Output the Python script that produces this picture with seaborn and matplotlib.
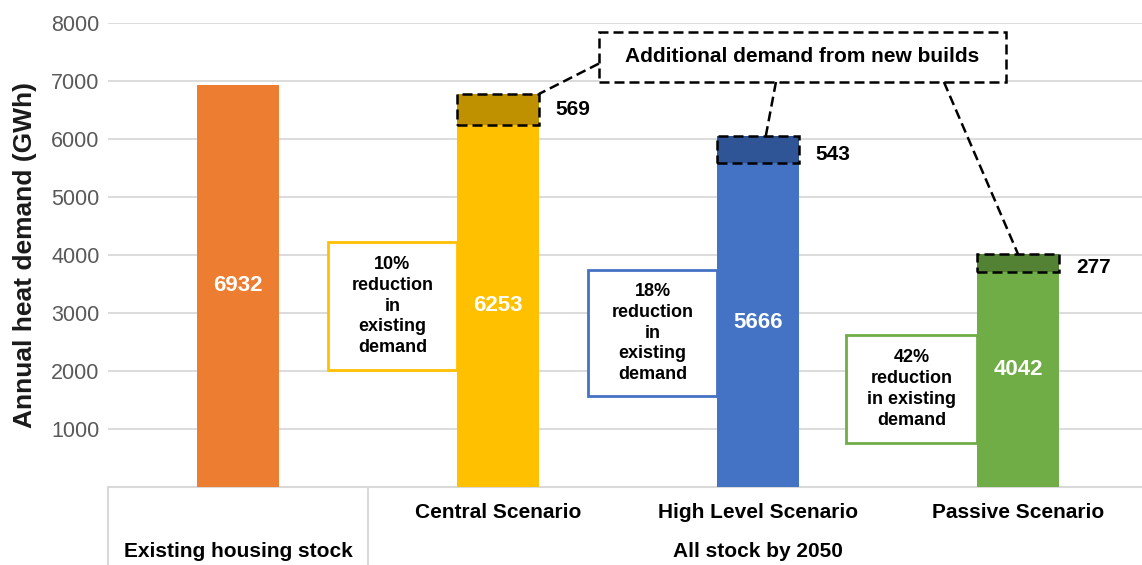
import matplotlib
matplotlib.use("Agg")
import matplotlib.pyplot as plt
from matplotlib.patches import Rectangle
import matplotlib.transforms as mtransforms
import seaborn as sns

# --- data ----------------------------------------------------------------
categories = ["Existing housing stock", "Central Scenario", "High Level Scenario", "Passive Scenario"]
tick_labels = ["", "Central Scenario", "High Level Scenario", "Passive Scenario"]
group_labels = ["Existing housing stock", "All stock by 2050"]
existing_part = [6932, 6241, 5586, 3707]   # drawn height of existing-stock demand
new_part = [0, 535, 466, 310]              # drawn height of new-build demand
existing_label = [6932, 6253, 5666, 4042]
new_label = [None, 569, 543, 277]
reductions = ["10%\nreduction\nin\nexisting\ndemand",
              "18%\nreduction\nin\nexisting\ndemand",
              "42%\nreduction\nin existing\ndemand"]

base_colors = ["#ED7D31", "#FFC000", "#4472C4", "#70AD47"]
top_colors = ["#ED7D31", "#BF9000", "#2F5597", "#548235"]

sns.set_theme(style="whitegrid")
plt.rcParams["font.family"] = ["Liberation Sans", "DejaVu Sans"]

fig = plt.figure(figsize=(11.42, 5.65), dpi=100)
ax = fig.add_axes([108 / 1142, 78 / 565, 1040 / 1142, 464 / 565])

totals = [a + b for a, b in zip(existing_part, new_part)]
W = 0.315
sns.barplot(x=categories, y=totals, hue=categories, palette=top_colors, legend=False,
            width=W, saturation=1, ax=ax, zorder=2, linewidth=0)
sns.barplot(x=categories, y=existing_part, hue=categories, palette=base_colors, legend=False,
            width=W, saturation=1, ax=ax, zorder=3, linewidth=0)

# dashed outline around the new-build segment
xs = range(len(categories))
for i in xs[1:]:
    ax.bar(i, new_part[i], bottom=existing_part[i], width=W, fill=False,
           edgecolor="black", linewidth=1.8, linestyle=(0, (4, 2)), zorder=4)

ax.set_xlim(-0.5, 3.5)
ax.set_ylim(0, 8000)
ax.set_yticks(range(1000, 8001, 1000))
ax.tick_params(axis="y", labelsize=15.5, labelcolor="#595959", length=0, pad=6)
ax.grid(axis="y", color="#D9D9D9", linewidth=1.3)
ax.grid(axis="x", visible=False)
for s in ["top", "right", "left"]:
    ax.spines[s].set_visible(False)
ax.spines["bottom"].set_color("#D9D9D9")
ax.spines["bottom"].set_linewidth(1.5)
ax.set_xticks(list(xs), labels=[""] * 4)
ax.tick_params(axis="x", length=0)
ax.set_xlabel("")
ax.set_ylabel("Annual heat demand (GWh)", fontsize=19, fontweight="bold", color="#1a1a1a")
ax.yaxis.set_label_coords(-0.068, 0.5)

# two-level category axis
trans = mtransforms.blended_transform_factory(ax.transData, ax.transAxes)
for i in xs:
    ax.text(i, -0.056, tick_labels[i], transform=trans, ha="center", va="center",
            fontsize=15, fontweight="bold", color="black")
ax.text(0, -0.138, group_labels[0], transform=trans, ha="center", va="center",
        fontsize=15, fontweight="bold", color="black")
ax.text(2, -0.138, group_labels[1], transform=trans, ha="center", va="center",
        fontsize=15, fontweight="bold", color="black")
for xv in [-0.5, 0.5, 3.5]:
    ax.plot([xv, xv], [0, -0.17], transform=trans, color="#D9D9D9", lw=1.5, clip_on=False)

# value labels
for i in xs:
    ax.text(i, existing_label[i] / 2, str(existing_label[i]), ha="center", va="center",
            fontsize=16, fontweight="bold", color="white", zorder=5)
    if new_label[i] is not None:
        ax.text(i + W / 2 + 0.065, existing_part[i] + new_part[i] / 2 - 80 * (i > 1),
                str(new_label[i]), ha="left", va="center", fontsize=15,
                fontweight="bold", color="black")

# reduction callout boxes
boxes = [(0.346, 2017, 0.496, 2207), (1.346, 1569, 0.496, 2172), (2.338, 759, 0.504, 1862)]
for (bx, by, bw, bh), txt, col in zip(boxes, reductions, base_colors[1:]):
    ax.add_patch(Rectangle((bx, by), bw, bh, facecolor="white", edgecolor=col,
                           linewidth=2, zorder=5))
    ax.text(bx + bw / 2, by + bh / 2, txt, ha="center", va="center", fontsize=13,
            fontweight="bold", color="black", linespacing=1.3, zorder=6)

# new builds callout
dash = (0, (4, 2))
ax.add_patch(Rectangle((1.388, 6983), 1.566, 862, facecolor="white", edgecolor="black",
                       linewidth=1.8, linestyle=dash, zorder=5))
ax.text(2.171, 7414, "Additional demand from new builds", ha="center", va="center",
        fontsize=15, fontweight="bold", color="black", zorder=6)
ax.plot([1.388, 1 + W / 2], [7300, totals[1]], color="black", lw=1.8, ls=dash, zorder=5)
ax.plot([2.069, 2.03], [6983, totals[2]], color="black", lw=1.8, ls=dash, zorder=5)
ax.plot([2.715, 3.0], [6983, totals[3]], color="black", lw=1.8, ls=dash, zorder=5)

fig.savefig("out.png", dpi=100)
